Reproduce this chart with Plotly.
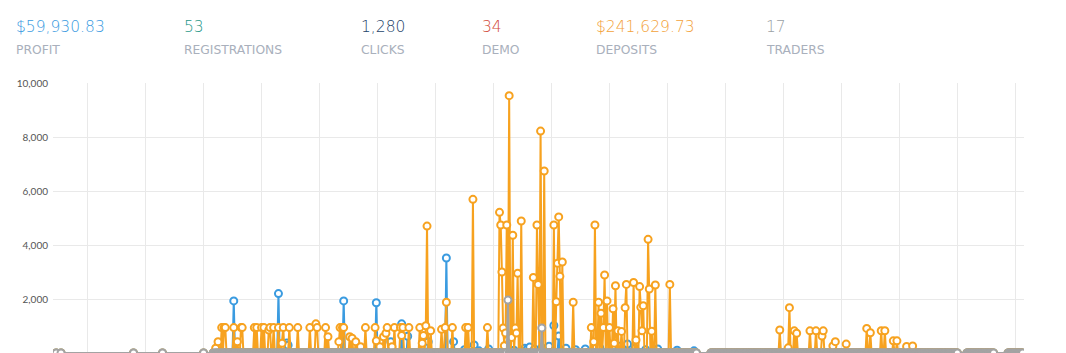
import pandas as pd
import plotly.graph_objects as go

# ---------------- data ----------------
BASE_DATE = "2024-03-01"

# timeline (hours since BASE_DATE): a few sparse early stamps, then half-hourly blocks
SPARSE_HOURS = [11, 13, 43, 55, 72]
BLOCKS = [(76, 276), (282, 384), (388, 399), (405, 411)]

ORANGE_HOURS = [77, 78, 79.5, 80.5, 81, 84.5, 86, 87.5, 88, 93, 94, 96, 97, 99, 99.5, 101, 103,
                104.5, 105, 107.5, 111, 116, 118.5, 119, 122.5, 123.5, 128, 128.5, 129.5, 130,
                132.5, 133.5, 135, 137, 139, 143, 143.5, 145, 146.5, 147.5, 148, 150, 151, 153.5,
                154, 154.5, 157, 161.5, 162.5, 163, 164, 164.5, 166, 170.5, 172, 172.5, 175, 180.5,
                181.5, 183.5, 189.5, 194.5, 195, 195.5, 196, 196.5, 197, 197.5, 198, 198.5, 199.5,
                200, 201, 201.5, 202, 203.5, 208.5, 210, 210.5, 211.5, 213, 217, 218, 218.5, 219,
                219.5, 220.5, 225, 232.5, 233.5, 234, 235.5, 236.5, 237.5, 238, 239, 240, 241.5,
                242, 242.5, 243.5, 245, 246.5, 247, 250, 251, 252.5, 253, 253.5, 254, 256, 256.5,
                257.5, 259, 265, 310.5, 314, 314.5, 316.5, 317.5, 323, 325.5, 328, 328.5, 332.5,
                333.5, 338, 346.5, 348, 352.5, 354, 357.5, 359, 363, 365.5]
ORANGE_VALUES = [180, 420, 940, 940, 940, 940, 420, 940, 940, 940, 940, 940, 940, 850, 940, 940, 940,
                 360, 940, 940, 940, 940, 1080, 940, 940, 600, 420, 940, 940, 940,
                 600, 550, 420, 235, 940, 940, 450, 230, 600, 730, 940, 230, 940, 940,
                 650, 940, 940, 940, 360, 650, 1010, 4700, 825, 877, 940, 1880, 940, 940,
                 940, 5690, 940, 5210, 4740, 3000, 925, 270, 740, 4740, 490, 9530, 570,
                 4360, 925, 740, 2950, 4890, 2800, 4740, 2540, 8220, 6740, 4740, 1900, 3320, 5040,
                 2840, 3370, 1880, 940, 420, 4740, 1880, 1470, 940, 2890, 1930, 940, 1640,
                 360, 2490, 825, 800, 1680, 2540, 2610, 480, 2460, 1690, 825, 1750, 4210, 2370,
                 810, 2520, 2540, 850, 190, 1680, 820, 730, 820, 820, 630, 820, 260,
                 420, 330, 910, 750, 825, 825, 450, 450, 240, 260]

BLUE_HOURS = [84.5, 103, 106.5, 107, 130, 143.5, 149.5, 154, 156.5, 165, 172.5, 175.5, 180, 184,
              186, 190, 200.5, 205, 206, 207, 209, 212, 215, 217, 219, 222, 226, 230, 236, 244,
              247.5, 250.5, 255, 260, 268, 275]
BLUE_VALUES = [1930, 2200, 370, 290, 1930, 1860, 420, 1080, 620, 420, 3520, 420, 120, 300,
               80, 150, 100, 180, 150, 220, 150, 200, 250, 1020, 630, 180, 120, 150, 200, 250,
               330, 180, 120, 150, 100, 80]

GRAY_HOURS = [198, 212]
GRAY_VALUES = [1960, 930]

KPI_VALUES = ["$59,930.83", "53", "1,280", "34", "$241,629.73", "17"]
KPI_LABELS = ["PROFIT", "REGISTRATIONS", "CLICKS", "DEMO", "DEPOSITS", "TRADERS"]

# ---------------- build ----------------
hours = set(SPARSE_HOURS)
for a, b in BLOCKS:
    h = a
    while h <= b:
        hours.add(h)
        h += 0.5
hours |= set(ORANGE_HOURS) | set(BLUE_HOURS) | set(GRAY_HOURS)
hours = sorted(hours)

orange = dict(zip(ORANGE_HOURS, ORANGE_VALUES))
blue = dict(zip(BLUE_HOURS, BLUE_VALUES))
gray = dict(zip(GRAY_HOURS, GRAY_VALUES))

base = pd.Timestamp(BASE_DATE)
times = [base + pd.Timedelta(hours=h) for h in hours]

C_BLUE = "#3a9be0"
C_ORANGE = "#f7a21f"
C_GRAY = "#a3a3a3"

def trace(name, values, color):
    return go.Scatter(
        x=times, y=[values.get(h, 0) for h in hours], name=name, mode="lines+markers",
        line=dict(color=color, width=2),
        marker=dict(symbol="circle", size=7, color="white", line=dict(color=color, width=2)),
        showlegend=False,
    )

fig = go.Figure()
fig.add_trace(trace("Profit", blue, C_BLUE))
fig.add_trace(trace("Deposits", orange, C_ORANGE))
fig.add_trace(trace("Traders", gray, C_GRAY))

W, H = 1066, 353
ML, MR, MT, MB = 53, 42, 83, 0
pw, ph = W - ML - MR, H - MT - MB

def px_x(x):
    return (x - ML) / pw

def px_y(y):
    return (H - MB - y) / ph

KPI_X = [13.5, 181.5, 359, 480, 593.5, 764]
KPI_COLORS = ["#3a9bdf", "#1f9788", "#24436a", "#d24c3a", "#f3a23a", "#9a9fa5"]
LABEL_COLOR = "#a9b0bc"
annotations = []
for xv, val, lab, col in zip(KPI_X, KPI_VALUES, KPI_LABELS, KPI_COLORS):
    annotations.append(dict(x=px_x(xv), y=px_y(27), xref="paper", yref="paper", text=val,
                            showarrow=False, xanchor="left", yanchor="middle",
                            font=dict(family="DejaVu Sans", size=15.5, color=col, weight=200)))
    annotations.append(dict(x=px_x(xv), y=px_y(49.5), xref="paper", yref="paper", text=lab,
                            showarrow=False, xanchor="left", yanchor="middle",
                            font=dict(family="DejaVu Sans", size=12.3, color=LABEL_COLOR)))

x0 = base + pd.Timedelta(hours=9.68)
x1 = base + pd.Timedelta(hours=411.6)

fig.update_layout(
    width=W, height=H, margin=dict(l=ML, r=MR, t=MT, b=MB),
    paper_bgcolor="white", plot_bgcolor="white",
    annotations=annotations,
    xaxis=dict(type="date", range=[x0, x1], dtick=86400000, tick0="2024-03-02",
               showgrid=True, gridcolor="#e9e9e9", gridwidth=1, showticklabels=False,
               zeroline=False, showline=False),
    yaxis=dict(range=[0, 10000], dtick=2000, tickformat=",d", showgrid=True,
               gridcolor="#e9e9e9", gridwidth=1, zeroline=False, showline=False,
               tickfont=dict(family="Lato", size=10, color="#555"), ticklabelstandoff=4),
)

fig.write_html("out.html")
